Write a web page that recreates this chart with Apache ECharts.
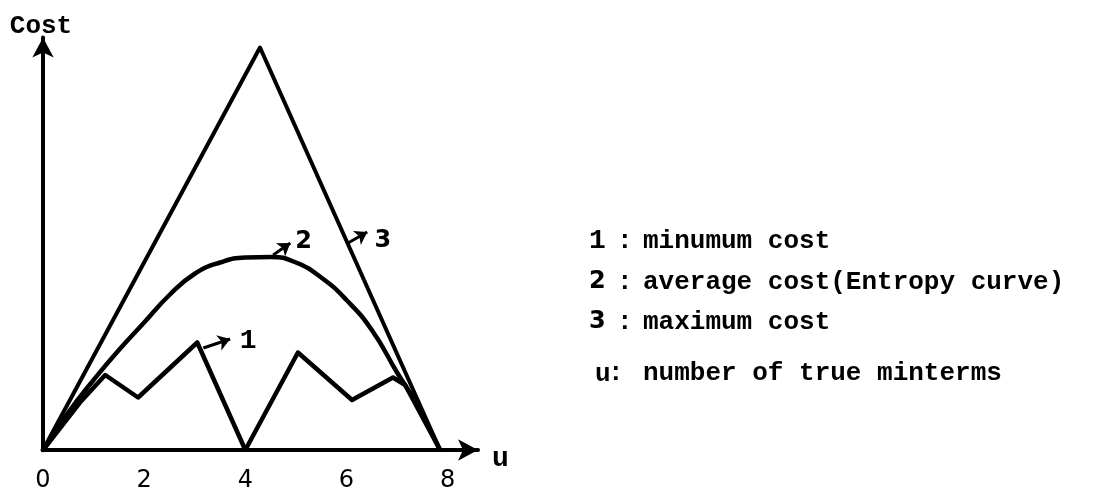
<!DOCTYPE html>
<html>
<head>
<meta charset="utf-8">
<script src="https://cdn.jsdelivr.net/npm/echarts@6/dist/echarts.min.js"></script>
<style>
  html, body { margin: 0; padding: 0; background: #fff; }
  #chart { width: 1101px; height: 498px; }
</style>
</head>
<body>
<div id="chart"></div>
<script>
// u: number of true minterms; cost in arbitrary units
const uMin    = [0, 0.73, 1.23, 1.88, 3.05, 4.0, 5.04, 6.11, 6.92, 7.16, 7.85];
const costMin = [0, 1.9, 3.0, 2.1, 4.3, 0, 3.9, 2.0, 2.9, 2.6, 0];

const uAvg    = [0, 0.25, 0.5, 1, 1.5, 2, 2.5, 3, 3.5, 4, 4.5, 5, 5.5, 6, 6.5, 7, 7.4, 7.85];
const costAvg = [0, 0.7, 1.5, 2.8, 4.0, 5.1, 6.2, 7.05, 7.5, 7.7, 7.72, 7.5, 6.9, 6.0, 4.8, 3.1, 1.8, 0];

const uMax    = [0, 4.29, 7.85];
const costMax = [0, 16.1, 0];

const tickLabels = ['0', '2', '4', '6', '8'];

// curve tags: label, arrow start and end in (u, cost)
const tagNames = ['1', '2', '3'];
const tagFrom  = [[3.17, 4.08], [4.55, 7.8], [6.03, 8.28]];
const tagTo    = [[3.70, 4.44], [4.89, 8.28], [6.41, 8.72]];

const legendKeys  = ['1', '2', '3', 'u'];
const legendTexts = ['minumum cost', 'average cost(Entropy curve)', 'maximum cost', 'number of true minterms'];

const INK = '#000';
const MONO = '"Liberation Mono", "DejaVu Sans Mono", monospace';
const SANS = '"DejaVu Sans", "Noto Sans", sans-serif';

function pairs(xs, ys) { return xs.map((x, i) => [x, ys[i]]); }

function tag(i, fontFamily, fontSize, offset) {
  return {
    silent: true,
    symbol: ['none', 'arrow'],
    symbolSize: 12,
    lineStyle: { color: INK, width: 3, type: 'solid', curveness: -0.4 },
    label: {
      show: true, position: 'end', distance: 6, offset: offset,
      formatter: tagNames[i], color: INK,
      fontFamily: fontFamily, fontSize: fontSize, fontWeight: 'bold'
    },
    data: [[{ coord: tagFrom[i] }, { coord: tagTo[i] }]]
  };
}

function lineSeries(name, data, width, extra) {
  return Object.assign({
    name: name, type: 'line', data: data,
    symbol: 'none', silent: true,
    lineStyle: { color: INK, width: width, join: 'round', cap: 'round' }
  }, extra || {});
}

const legendGraphics = [];
const legendY = [243, 284, 324, 375];
legendKeys.forEach((k, i) => {
  const isU = k === 'u';
  const keyFont = i === 0 ? 'bold 28px ' + MONO : (isU ? 'bold 26px ' + MONO : 'bold 24px ' + SANS);
  legendGraphics.push({
    type: 'text', left: isU ? 595 : 589, top: legendY[i] - (i === 0 ? 16 : 14),
    style: { text: k, fill: INK, font: keyFont }
  });
  legendGraphics.push({
    type: 'text', left: isU ? 608 : 617, top: legendY[i] - 15,
    style: { text: ':', fill: INK, font: 'bold 26px ' + MONO }
  });
  legendGraphics.push({
    type: 'text', left: 643, top: legendY[i] - 15,
    style: { text: legendTexts[i], fill: INK, font: 'bold 26px ' + MONO }
  });
});

const chart = echarts.init(document.getElementById('chart'));
chart.setOption({
  animation: false,
  backgroundColor: '#fff',
  grid: { left: 43, right: 623, top: 37.5, bottom: 48, containLabel: false },
  xAxis: {
    type: 'value', min: 0, max: 8.6, interval: 2,
    name: 'u', nameLocation: 'end', nameGap: 14,
    nameTextStyle: { color: INK, fontFamily: MONO, fontWeight: 'bold', fontSize: 28, verticalAlign: 'top', lineHeight: 18 },
    axisLine: { show: true, symbol: ['none', 'arrow'], symbolSize: [16, 20], lineStyle: { color: INK, width: 4 } },
    axisTick: { show: false },
    splitLine: { show: false },
    axisLabel: {
      show: true, margin: 19, color: INK, fontFamily: SANS, fontSize: 24,
      showMaxLabel: false,
      formatter: v => (v % 2 === 0 && v / 2 < tickLabels.length) ? tickLabels[v / 2] : ''
    }
  },
  yAxis: {
    type: 'value', min: 0, max: 16.5,
    name: 'Cost', nameLocation: 'end', nameGap: -2,
    nameTextStyle: { color: INK, fontFamily: MONO, fontWeight: 'bold', fontSize: 26, align: 'center', padding: [0, 0, 0, -4] },
    axisLine: { show: true, symbol: ['none', 'arrow'], symbolSize: [16, 20], lineStyle: { color: INK, width: 4 } },
    axisTick: { show: false },
    splitLine: { show: false },
    axisLabel: { show: false }
  },
  series: [
    lineSeries('maximum cost', pairs(uMax, costMax), 4, { markLine: tag(2, SANS, 24, [2, 12]) }),
    lineSeries('average cost', pairs(uAvg, costAvg), 4.5, { smooth: 0.5, markLine: tag(1, SANS, 24, [0, 2]) }),
    lineSeries('minimum cost', pairs(uMin, costMin), 4.5, { markLine: tag(0, MONO, 28, [4, 4]) })
  ],
  graphic: legendGraphics
});
</script>
</body>
</html>
